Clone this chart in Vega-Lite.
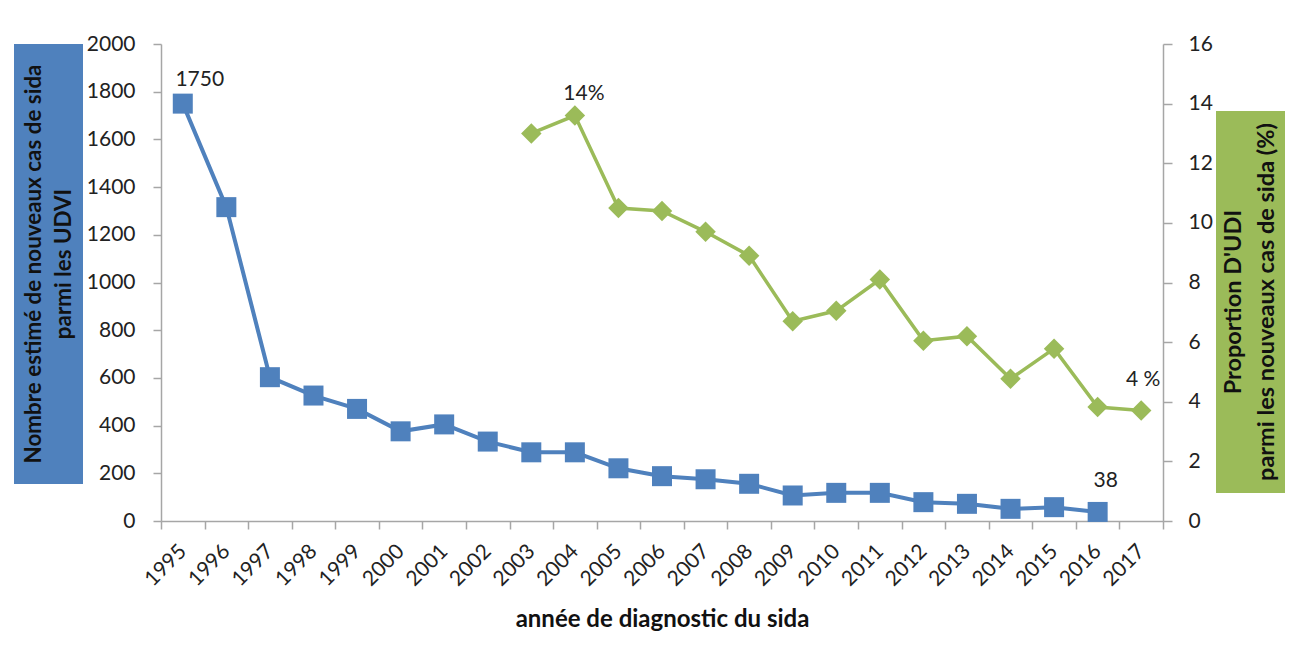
{
  "$schema": "https://vega.github.io/schema/vega-lite/v6.json",
  "padding": {"left": 14, "top": 33, "right": 5, "bottom": 5},
  "background": "white",
  "config": {"font": "Lato", "view": {"stroke": null}, "concat": {"spacing": 3}},
  "data": {"values": [
    {"year": "1995", "cases": 1750, "pct": null},
    {"year": "1996", "cases": 1316, "pct": null},
    {"year": "1997", "cases": 603, "pct": null},
    {"year": "1998", "cases": 526, "pct": null},
    {"year": "1999", "cases": 470, "pct": null},
    {"year": "2000", "cases": 376, "pct": null},
    {"year": "2001", "cases": 405, "pct": null},
    {"year": "2002", "cases": 333, "pct": null},
    {"year": "2003", "cases": 288, "pct": 13.0},
    {"year": "2004", "cases": 288, "pct": 13.6},
    {"year": "2005", "cases": 221, "pct": 10.5},
    {"year": "2006", "cases": 188, "pct": 10.4},
    {"year": "2007", "cases": 175, "pct": 9.7},
    {"year": "2008", "cases": 156, "pct": 8.9},
    {"year": "2009", "cases": 107, "pct": 6.7},
    {"year": "2010", "cases": 118, "pct": 7.05},
    {"year": "2011", "cases": 118, "pct": 8.1},
    {"year": "2012", "cases": 79, "pct": 6.05},
    {"year": "2013", "cases": 72, "pct": 6.2},
    {"year": "2014", "cases": 51, "pct": 4.77},
    {"year": "2015", "cases": 58, "pct": 5.78},
    {"year": "2016", "cases": 38, "pct": 3.82},
    {"year": "2017", "cases": null, "pct": 3.71}
  ]},
  "hconcat": [
    {
      "width": 69, "height": 440, "data": {"values": [{}]},
      "layer": [
        {"mark": {"type": "rect", "color": "#4F81BD", "opacity": 1}, "encoding": {}},
        {"mark": {"type": "text", "text": ["Nombre estimé de nouveaux cas de sida", "parmi les UDVI"], "angle": 270, "dy": -15, "fontSize": 22.4, "fontWeight": "bold", "color": "#111111", "lineHeight": 30, "align": "center", "baseline": "middle"}, "encoding": {}}
      ]
    },
    {
      "width": 1002,
      "height": 477,
      "encoding": {
        "x": {
          "field": "year", "type": "ordinal",
          "scale": {"type": "band", "paddingInner": 0, "paddingOuter": 0},
          "axis": {
            "title": "année de diagnostic du sida", "titleFontSize": 24, "titleFontWeight": "bold", "titleColor": "#111111", "titlePadding": 18,
            "labelAngle": -45, "labelAlign": "right", "labelBaseline": "middle", "labelFontSize": 21, "labelColor": "#222222", "labelPadding": 19,
            "tickBand": "extent", "tickSize": 8, "tickColor": "#a6a6a6", "tickWidth": 1.5, "domainColor": "#a6a6a6", "domainWidth": 1.5, "grid": false
          }
        }
      },
      "layer": [
        {
          "encoding": {"y": {"field": "cases", "type": "quantitative", "scale": {"domain": [0, 2000]},
            "axis": {"title": null, "orient": "left", "format": "d", "values": [0, 200, 400, 600, 800, 1000, 1200, 1400, 1600, 1800, 2000], "labelFontSize": 21, "labelColor": "#222222", "labelPadding": 18, "tickSize": 8, "tickColor": "#a6a6a6", "tickWidth": 1.5, "domainColor": "#a6a6a6", "domainWidth": 1.5, "grid": false}}},
          "layer": [
            {"mark": {"type": "line", "color": "#4F81BD", "strokeWidth": 4}},
            {"mark": {"type": "point", "shape": "square", "filled": true, "size": 400, "color": "#4F81BD", "opacity": 1}},
            {
              "transform": [{"filter": "datum.year == '1995'"}],
              "mark": {"type": "text", "dx": 17, "dy": -24, "fontSize": 21, "color": "#222222"},
              "encoding": {"text": {"field": "cases", "type": "quantitative", "format": "d"}}
            },
            {
              "transform": [{"filter": "datum.year == '2016'"}],
              "mark": {"type": "text", "dx": 8, "dy": -31, "fontSize": 21, "color": "#222222"},
              "encoding": {"text": {"field": "cases", "type": "quantitative", "format": "d"}}
            }
          ]
        },
        {
          "encoding": {"y": {"field": "pct", "type": "quantitative", "scale": {"domain": [0, 16]},
            "axis": {"title": null, "orient": "right", "format": "d", "values": [0, 2, 4, 6, 8, 10, 12, 14, 16], "labelFontSize": 21, "labelColor": "#222222", "labelPadding": 16, "tickSize": 9, "tickColor": "#a6a6a6", "tickWidth": 1.5, "domainColor": "#a6a6a6", "domainWidth": 1.5, "grid": false}}},
          "layer": [
            {"mark": {"type": "line", "color": "#9BBB59", "strokeWidth": 3.5}},
            {"mark": {"type": "point", "shape": "diamond", "filled": true, "size": 420, "color": "#9BBB59", "opacity": 1}},
            {
              "transform": [{"filter": "datum.year == '2004'"}],
              "mark": {"type": "text", "text": "14%", "dx": 9, "dy": -22, "fontSize": 21, "color": "#222222"}
            },
            {
              "transform": [{"filter": "datum.year == '2017'"}],
              "mark": {"type": "text", "text": "4 %", "dx": 2, "dy": -30, "fontSize": 21, "color": "#222222"}
            }
          ]
        }
      ],
      "resolve": {"scale": {"y": "independent"}}
    },
    {
      "spacing": 10,
      "vconcat": [
        {"width": 69, "height": 57, "data": {"values": [{}]}, "mark": {"type": "rect", "opacity": 0}, "encoding": {}},
        {
          "width": 69, "height": 382, "data": {"values": [{}]},
          "layer": [
            {"mark": {"type": "rect", "color": "#9BBB59", "opacity": 1}, "encoding": {}},
            {"mark": {"type": "text", "text": ["Proportion D'UDI", "parmi les nouveaux cas de sida (%)"], "angle": 270, "dy": -16.5, "fontSize": 23.5, "fontWeight": "bold", "color": "#111111", "lineHeight": 33, "align": "center", "baseline": "middle"}, "encoding": {}}
          ]
        }
      ]
    }
  ]
}
